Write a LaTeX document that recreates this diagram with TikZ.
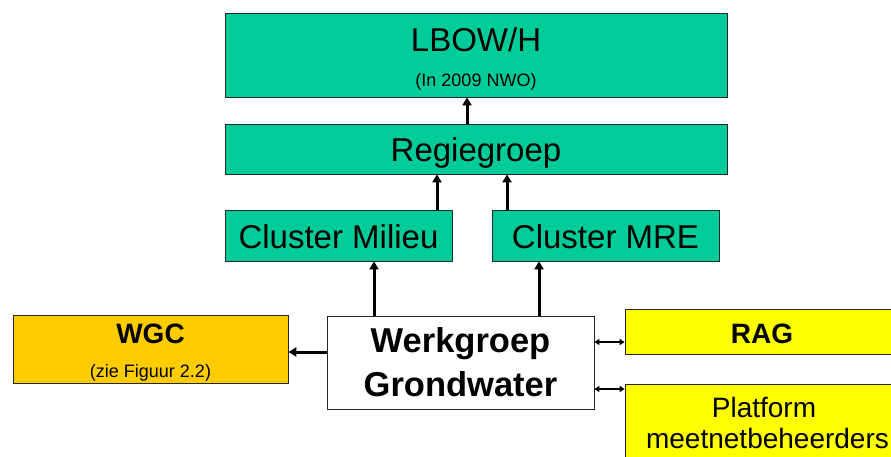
\documentclass[tikz,border=0pt]{standalone}
\usepackage{fontspec}
\setmainfont{Liberation Sans}
\usetikzlibrary{arrows.meta}
\definecolor{boxgreen}{HTML}{00CC99}
\definecolor{boxorange}{HTML}{FFCC00}
\definecolor{boxyellow}{HTML}{FFFF00}
\begin{document}
\begin{tikzpicture}[x=1pt,y=-1pt,
  box/.style={draw=black!85, line width=0.8pt, rectangle, inner sep=0pt},
  greenbox/.style={box, fill=boxgreen},
  bigarrow/.style={line width=3pt, -{Triangle[length=8pt,width=9pt]}},
  smallarrow/.style={line width=1.3pt, {Triangle[length=5pt,width=6pt]}-{Triangle[length=5pt,width=6pt]}},
  txt/.style={anchor=base, inner sep=0pt},
  bigtxt/.style={txt, font=\fontsize{33pt}{33pt}\selectfont},
  smalltxt/.style={txt, font=\fontsize{18pt}{18pt}\selectfont},
  boldtxt/.style={txt, font=\fontsize{34.5pt}{34.5pt}\selectfont\bfseries},
  midbold/.style={txt, font=\fontsize{28pt}{28pt}\selectfont\bfseries},
  midtxt/.style={txt, font=\fontsize{28pt}{28pt}\selectfont}]
\useasboundingbox (0,0) rectangle (891,457);
\clip (0,0) rectangle (891,457);
% boxes
\node[greenbox, minimum width=502pt, minimum height=84pt] (lbow) at (476,55) {};
\node[greenbox, minimum width=502pt, minimum height=50pt] (reg) at (476,149) {};
\node[greenbox, minimum width=227pt, minimum height=51pt] (cm) at (338.5,235.5) {};
\node[greenbox, minimum width=227pt, minimum height=51pt] (mre) at (605.5,235.5) {};
\node[box, fill=white, minimum width=267pt, minimum height=93pt] (wg) at (460.5,362.5) {};
\node[box, fill=boxorange, minimum width=275pt, minimum height=68pt] (wgc) at (150.5,349) {};
\node[box, fill=boxyellow, minimum width=270pt, minimum height=45pt] (rag) at (760,331.5) {};
\node[box, fill=boxyellow, minimum width=270pt, minimum height=86pt] (plat) at (760,427) {};
% texts
\node[bigtxt] (lbowt) at (476,52) {LBOW/H};
\node[smalltxt] (lbows) at (476,87) {(In 2009 NWO)};
\node[bigtxt] (regt) at (476,162) {Regiegroep};
\node[bigtxt] (cmt) at (338.5,248) {Cluster Milieu};
\node[bigtxt] (mret) at (605.5,248) {Cluster MRE};
\node[boldtxt] (wgt1) at (460.5,352) {Werkgroep};
\node[boldtxt] (wgt2) at (460.5,396) {Grondwater};
\node[midbold] (wgct) at (150.5,343) {WGC};
\node[smalltxt] (wgcs) at (150.5,377) {(zie Figuur 2.2)};
\node[midbold] (ragt) at (762,343) {RAG};
\node[midtxt] (platt1) at (764,417) {Platform};
\node[midtxt] (platt2) at (767.5,448) {meetnetbeheerders};
% connectors
\draw[bigarrow] ([xshift=-9pt]reg.north) -- ([xshift=-9pt]lbow.south);
\draw[bigarrow] ([xshift=98.5pt]cm.north) -- ([xshift=-39pt]reg.south);
\draw[bigarrow] ([xshift=-98.5pt]mre.north) -- ([xshift=31pt]reg.south);
\draw[bigarrow] ([xshift=-86.5pt]wg.north) -- ([xshift=35.5pt]cm.south);
\draw[bigarrow] ([xshift=78.5pt]wg.north) -- ([xshift=-66.5pt]mre.south);
\draw[bigarrow] ([yshift=10.5pt]wg.west) -- ([yshift=-3pt]wgc.east);
\draw[smallarrow] ([yshift=20.5pt]wg.east) -- ([yshift=-10.5pt]rag.west);
\draw[smallarrow] ([yshift=-26.5pt]wg.east) -- ([yshift=38pt]plat.west);
\end{tikzpicture}
\end{document}
